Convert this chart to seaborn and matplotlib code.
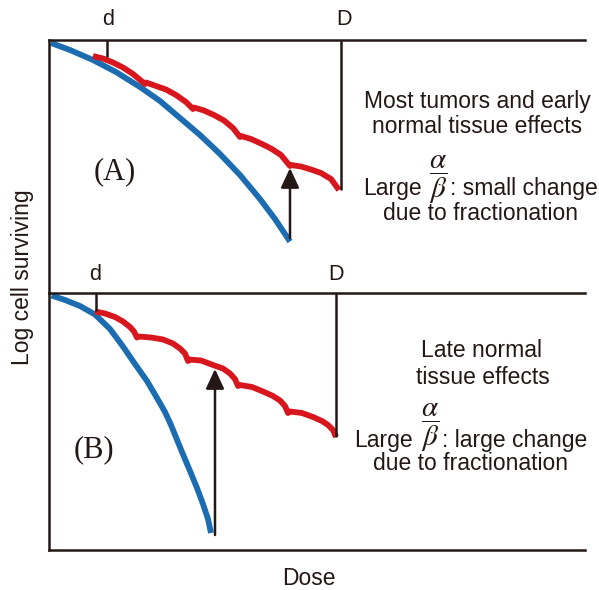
import numpy as np
import pandas as pd
import matplotlib
matplotlib.use("Agg")
import matplotlib.pyplot as plt
import seaborn as sns

# ---------------- data (dose in arbitrary units, log cell surviving) ----------------
# Panel A: single dose (blue) and fractionated (red) survival curves
a_single_dose = [0.04, 0.42, 0.88, 1.34, 1.82, 2.22, 2.62, 3.02, 3.42, 3.82, 4.22, 4.52, 4.82]
a_single_logs = [-0.06, -0.20, -0.40, -0.64, -0.94, -1.22, -1.56, -1.90, -2.28, -2.70, -3.18, -3.58, -4.03]

a_frac_dose = [0.88, 1.08, 1.28, 1.48, 1.68, 1.92,
               1.94, 2.14, 2.34, 2.54, 2.74, 2.88,
               2.90, 3.10, 3.30, 3.50, 3.68, 3.82,
               3.84, 4.04, 4.24, 4.44, 4.64, 4.82,
               4.84, 5.04, 5.24, 5.44, 5.64, 5.80]
a_frac_logs = [-0.32, -0.37, -0.45, -0.55, -0.68, -0.88,
               -0.85, -0.92, -0.99, -1.10, -1.24, -1.38,
               -1.35, -1.41, -1.50, -1.61, -1.76, -1.94,
               -1.92, -1.98, -2.07, -2.17, -2.30, -2.52,
               -2.50, -2.53, -2.59, -2.66, -2.78, -3.00]

# Panel B
b_single_dose = [0.05, 0.32, 0.62, 0.92, 1.22, 1.48, 1.72, 1.96, 2.16, 2.32, 2.44, 2.66, 2.82, 2.96, 3.08, 3.18, 3.24]
b_single_logs = [-0.05, -0.14, -0.26, -0.43, -0.72, -1.07, -1.42, -1.76, -2.10, -2.38, -2.64, -3.18, -3.56, -3.90, -4.22, -4.52, -4.80]

b_frac_dose = [0.92, 1.12, 1.32, 1.48, 1.62, 1.70, 1.76,
               1.80, 2.04, 2.28, 2.48, 2.62, 2.72, 2.78,
               2.80, 3.04, 3.28, 3.48, 3.62, 3.72, 3.78,
               3.82, 4.06, 4.28, 4.48, 4.62, 4.72, 4.78,
               4.82, 5.06, 5.28, 5.46, 5.58, 5.68, 5.74]
b_frac_logs = [-0.37, -0.41, -0.48, -0.57, -0.68, -0.77, -0.89,
               -0.87, -0.89, -0.93, -1.01, -1.11, -1.21, -1.36,
               -1.33, -1.35, -1.44, -1.51, -1.61, -1.72, -1.86,
               -1.84, -1.88, -1.97, -2.06, -2.15, -2.26, -2.40,
               -2.37, -2.40, -2.48, -2.56, -2.64, -2.74, -2.88]

# markers for fraction size d and total dose D: (dose, lower end of guide line)
a_marks = {"d": (1.16, -0.34), "D": (5.84, -3.00)}
b_marks = {"d": (0.93, -0.37), "D": (5.75, -2.88)}

# arrows: (dose, from logS, to logS)
a_arrow = (4.82, -3.96, -2.56)
b_arrow = (3.32, -4.84, -1.52)

a_title = "(A)"
b_title = "(B)"
a_text = ["Most tumors and early", "normal tissue effects"]
b_text = ["Late normal", "tissue effects"]
a_effect = ": small change"
b_effect = ": large change"

# ---------------- style ----------------
sns.set_theme(style="white")
plt.rcParams["font.family"] = ["Liberation Sans", "DejaVu Sans"]
plt.rcParams["mathtext.fontset"] = "stix"

RED = "#d7161e"
BLUE = "#1b6cb0"
INK = "#231815"
FS = 16.5

fig = plt.figure(figsize=(5.99, 5.90), dpi=100)
ax_a = fig.add_axes([49 / 599, 1 - 293 / 590, 536 / 599, 253 / 590])
ax_b = fig.add_axes([49 / 599, 1 - 550 / 590, 536 / 599, 257 / 590])


def style_axes(ax, ylow, show_bottom):
    ax.set_xlim(0, 10.72)
    ax.set_ylim(ylow, 0)
    ax.set_xticks([])
    ax.set_yticks([])
    ax.set_xlabel("")
    ax.set_ylabel("")
    ax.patch.set_alpha(0)
    for side in ["left", "top", "bottom", "right"]:
        ax.spines[side].set_color(INK)
        ax.spines[side].set_linewidth(1.8)
    ax.spines["right"].set_visible(False)
    ax.spines["bottom"].set_visible(show_bottom)


def draw_panel(ax, sd, sl, fd, fl, marks, arrow):
    sns.lineplot(x=sd, y=sl, ax=ax, color=BLUE, lw=4.2, sort=False,
                 estimator=None, solid_capstyle="butt", solid_joinstyle="round")
    sns.lineplot(x=fd, y=fl, ax=ax, color=RED, lw=4.2, sort=False,
                 estimator=None, solid_capstyle="butt", solid_joinstyle="round")
    for lab, (x, yl) in marks.items():
        ax.vlines(x, yl, 0, color=INK, lw=1.8)
    x, y0, y1 = arrow
    ax.annotate("", xy=(x, y1), xytext=(x, y0),
                arrowprops=dict(arrowstyle="-|>,head_length=0.6,head_width=0.28",
                                mutation_scale=20, color=INK, lw=1.8,
                                shrinkA=0, shrinkB=0))


style_axes(ax_a, -5.06, False)
style_axes(ax_b, -5.14, True)

draw_panel(ax_a, a_single_dose, a_single_logs, a_frac_dose, a_frac_logs, a_marks, a_arrow)
draw_panel(ax_b, b_single_dose, b_single_logs, b_frac_dose, b_frac_logs, b_marks, b_arrow)

# d / D labels
ax_a.text(1.18, 0.30, "d", fontsize=15.5, color=INK, ha="center", va="baseline")
ax_a.text(5.90, 0.30, "D", fontsize=15.5, color=INK, ha="center", va="baseline")
ax_b.text(0.92, 0.26, "d", fontsize=15.5, color=INK, ha="center", va="baseline")
ax_b.text(5.75, 0.26, "D", fontsize=15.5, color=INK, ha="center", va="baseline")

# panel titles (serif)
serif = ["Liberation Serif", "DejaVu Serif"]
ax_a.text(1.32, -2.64, a_title, fontsize=22, family=serif, color=INK, ha="center", va="center")
ax_b.text(0.90, -3.14, b_title, fontsize=22, family=serif, color=INK, ha="center", va="center")

# descriptive text panel A
ax_a.text(8.57, -1.36, a_text[0], fontsize=FS, color=INK, ha="center", va="baseline")
ax_a.text(8.57, -1.86, a_text[1], fontsize=FS, color=INK, ha="center", va="baseline")
ax_a.text(6.28, -3.10, "Large", fontsize=FS, color=INK, ha="left", va="baseline")
ax_a.text(7.78, -2.80, r"$\dfrac{\alpha}{\beta}$", fontsize=21, color=INK, ha="center", va="center")
ax_a.text(8.02, -3.10, a_effect, fontsize=FS, color=INK, ha="left", va="baseline")
ax_a.text(8.63, -3.60, "due to fractionation", fontsize=FS, color=INK, ha="center", va="baseline")

# descriptive text panel B
ax_b.text(8.66, -1.28, b_text[0], fontsize=FS, color=INK, ha="center", va="baseline")
ax_b.text(8.68, -1.81, b_text[1], fontsize=FS, color=INK, ha="center", va="baseline")
ax_b.text(6.10, -3.07, "Large", fontsize=FS, color=INK, ha="left", va="baseline")
ax_b.text(7.62, -2.70, r"$\dfrac{\alpha}{\beta}$", fontsize=21, color=INK, ha="center", va="center")
ax_b.text(7.86, -3.07, b_effect, fontsize=FS, color=INK, ha="left", va="baseline")
ax_b.text(8.43, -3.54, "due to fractionation", fontsize=FS, color=INK, ha="center", va="baseline")

# shared axis labels
fig.text(23 / 599, 1 - 277 / 590, "Log cell surviving", fontsize=FS, color=INK,
         rotation=90, ha="center", va="center")
fig.text(309 / 599, 1 - 585 / 590, "Dose", fontsize=FS, color=INK, ha="center", va="baseline")

fig.savefig("out.png", dpi=100, facecolor="white")
